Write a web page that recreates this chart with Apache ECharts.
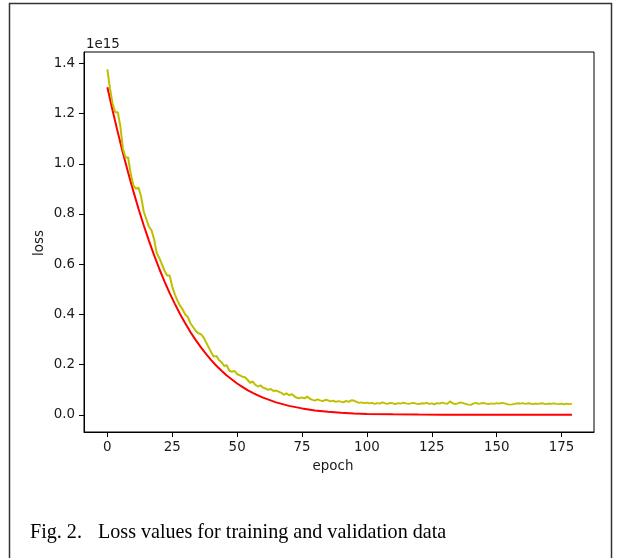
<!DOCTYPE html>
<html>
<head>
<meta charset="utf-8">
<script src="https://cdn.jsdelivr.net/npm/echarts@6/dist/echarts.min.js"></script>
<style>
html,body{margin:0;padding:0;background:#fff;}
#chart{width:623px;height:558px;}
</style>
</head>
<body>
<div id="chart"></div>
<script>
// values in units of 1e15
const trainEpochs = [0,2,4,6,8,10,12,14,16,18,20,22,24,26,28,30,32,34,36,38,40,42,44,46,48,50,52,54,56,58,60,65,70,75,80,85,90,95,100,110,120,130,140,150,160,170,179];
const trainLoss = [1.305,1.213,1.126,1.043,0.965,0.891,0.821,0.755,0.694,0.636,0.582,0.532,0.485,0.442,0.402,0.365,0.330,0.299,0.270,0.243,0.218,0.196,0.176,0.157,0.141,0.125,0.112,0.099,0.088,0.078,0.069,0.050,0.036,0.026,0.018,0.013,0.009,0.006,0.0041,0.0022,0.0013,0.0009,0.0006,0.0004,0.0003,0.0002,0.0002];
const valLoss = [
1.376,1.30,1.24,1.205,1.205,1.15,1.06,1.025,1.025,0.96,
0.915,0.90,0.905,0.87,0.81,0.78,0.75,0.735,0.70,0.645,
0.625,0.60,0.575,0.555,0.555,0.51,0.48,0.455,0.435,0.42,
0.40,0.39,0.365,0.35,0.335,0.325,0.322,0.31,0.29,0.27,
0.25,0.232,0.235,0.219,0.21,0.195,0.198,0.176,0.172,0.175,
0.162,0.158,0.152,0.150,0.14,0.128,0.133,0.12,0.113,0.118,
0.108,0.105,0.100,0.103,0.095,0.097,0.093,0.088,0.080,0.086,
0.078,0.083,0.075,0.068,0.066,0.070,0.066,0.073,0.065,0.060,
0.057,0.062,0.058,0.055,0.060,0.058,0.054,0.057,0.052,0.055,
0.053,0.050,0.056,0.052,0.058,0.057,0.052,0.048,0.050,0.047,
0.049,0.046,0.048,0.044,0.047,0.045,0.050,0.046,0.044,0.048,
0.046,0.043,0.047,0.045,0.049,0.046,0.044,0.046,0.048,0.045,
0.043,0.046,0.045,0.048,0.044,0.046,0.042,0.047,0.045,0.049,
0.046,0.044,0.054,0.047,0.043,0.046,0.050,0.047,0.044,0.041,
0.040,0.045,0.048,0.044,0.046,0.047,0.045,0.043,0.046,0.044,
0.047,0.045,0.048,0.046,0.043,0.041,0.042,0.044,0.046,0.045,
0.047,0.044,0.046,0.045,0.043,0.045,0.044,0.046,0.045,0.043,
0.045,0.044,0.046,0.044,0.043,0.045,0.042,0.045,0.043,0.045
];
const xTicks = [0,25,50,75,100,125,150,175];
const yTicks = [0,0.2,0.4,0.6,0.8,1.0,1.2,1.4];
const xName = 'epoch';
const yName = 'loss';
const exponentLabel = '1e15';
const captionLabel = 'Fig. 2.';
const captionText = 'Loss values for training and validation data';

const trainData = trainEpochs.map((e,i)=>[e, trainLoss[i]]);
const valData = valLoss.map((v,i)=>[i, v]);

const tickFont = {fontFamily:'DejaVu Sans', fontSize:13.4, color:'#1a1a1a'};
const chart = echarts.init(document.getElementById('chart'), null, {renderer:'canvas'});
chart.setOption({
  animation:false,
  backgroundColor:'#fff',
  grid:{left:84, top:52, width:510, height:380, show:true, borderColor:'#000', borderWidth:1, backgroundColor:'transparent'},
  xAxis:{
    type:'value', min:-9, max:187.5,
    axisLine:{show:true, onZero:false, lineStyle:{color:'#000', width:1}},
    axisTick:{show:true, customValues:xTicks, length:5, lineStyle:{color:'#000'}},
    axisLabel:Object.assign({customValues:xTicks, margin:9, formatter:v=>String(v)}, tickFont),
    splitLine:{show:false}
  },
  yAxis:{
    type:'value', min:-0.068, max:1.445,
    axisLine:{show:true, onZero:false, lineStyle:{color:'#000', width:1}},
    axisTick:{show:true, customValues:yTicks, length:5, lineStyle:{color:'#000'}},
    axisLabel:Object.assign({customValues:yTicks, margin:9, formatter:v=>v.toFixed(1)}, tickFont),
    splitLine:{show:false}
  },
  series:[
    {type:'line', data:trainData, showSymbol:false, smooth:false, lineStyle:{color:'#ff0000', width:2}, z:2},
    {type:'line', data:valData, showSymbol:false, lineStyle:{color:'#bfbf00', width:2}, z:3}
  ],
  graphic:[
    {type:'rect', shape:{x:9.5, y:3.5, width:602, height:620}, style:{fill:'none', stroke:'#333', lineWidth:1.5}, silent:true},
    {type:'text', x:86, y:45, style:{text:exponentLabel, font:'13.4px "DejaVu Sans"', fill:'#1a1a1a', verticalAlign:'middle', align:'left'}},
    {type:'text', x:40, y:243, rotation:Math.PI/2, style:{text:yName, font:'13.4px "DejaVu Sans"', fill:'#1a1a1a', verticalAlign:'middle', align:'center'}},
    {type:'text', x:333, y:467, style:{text:xName, font:'13.4px "DejaVu Sans"', fill:'#1a1a1a', verticalAlign:'middle', align:'center'}},
    {type:'text', x:30, y:533, style:{text:captionLabel, font:'20.1px "Liberation Serif"', fill:'#000', verticalAlign:'middle', align:'left'}},
    {type:'text', x:98, y:533, style:{text:captionText, font:'20.1px "Liberation Serif"', fill:'#000', verticalAlign:'middle', align:'left'}}
  ]
});
</script>
</body>
</html>
